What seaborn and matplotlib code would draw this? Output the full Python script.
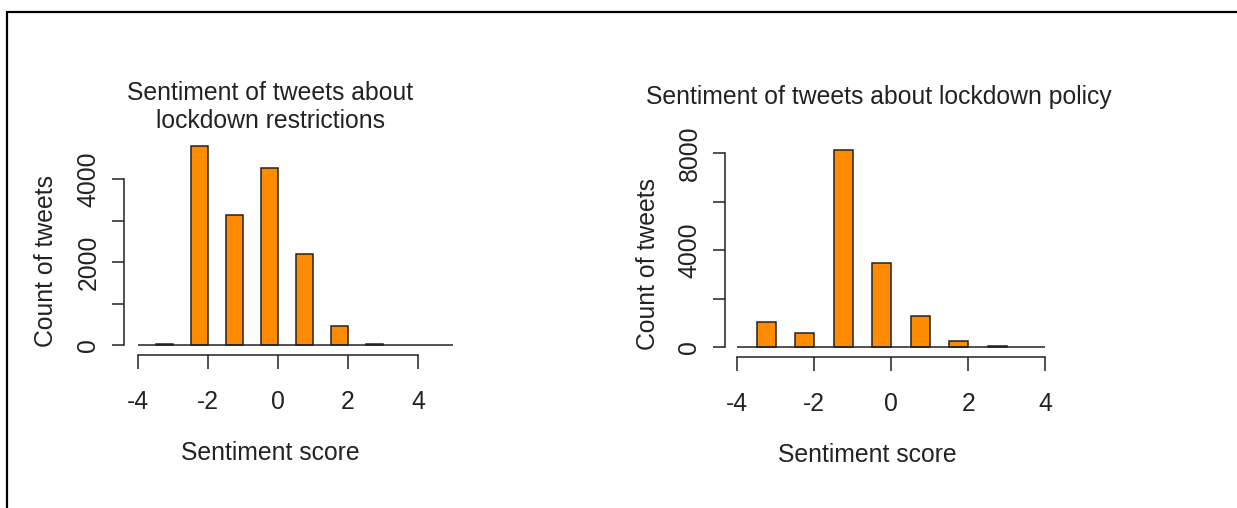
import matplotlib
matplotlib.use("Agg")
import matplotlib.pyplot as plt
from matplotlib.lines import Line2D
import seaborn as sns
import pandas as pd

# bins are [score - 0.5, score], one per integer score
scores = [-3, -2, -1, 0, 1, 2, 3]
restrictions_counts = [30, 4795, 3135, 4270, 2185, 450, 30]
policy_counts = [1030, 590, 8135, 3465, 1290, 260, 60]

restr_yticks = [0, 1000, 2000, 3000, 4000]
restr_ylabels = ["0", "", "2000", "", "4000"]
policy_yticks = [0, 2000, 4000, 6000, 8000]
policy_ylabels = ["0", "", "4000", "", "8000"]
xticks = [-4, -2, 0, 2, 4]

W, H = 1237, 508
FS = 17.8
INK = "#222222"

sns.set_style("ticks")
plt.rcParams["font.family"] = ["Liberation Sans", "DejaVu Sans"]
plt.rcParams.update({
    "axes.linewidth": 1.1,
    "xtick.major.width": 1.1,
    "ytick.major.width": 1.1,
    "xtick.color": INK,
    "ytick.color": INK,
    "axes.edgecolor": INK,
})

fig = plt.figure(figsize=(W / 100, H / 100), dpi=100)


def px_axes(x0, y0, x1, y1):
    return fig.add_axes([x0 / W, 1 - y1 / H, (x1 - x0) / W, (y1 - y0) / H])


def draw_panel(ax, counts, xlim, ylim, yticks, ylabels, base_end):
    df = pd.DataFrame({"mid": [s - 0.25 for s in scores], "count": counts})
    sns.barplot(data=df, x="mid", y="count", native_scale=True, width=0.5,
                color="#FF8C00", saturation=1, edgecolor=INK, linewidth=1.1,
                errorbar=None, ax=ax)
    ax.hlines(0, -4, base_end, color=INK, linewidth=1.1)
    ax.set_xlim(*xlim)
    ax.set_ylim(*ylim)
    ax.set_xticks(xticks)
    ax.set_xticklabels([str(t) for t in xticks])
    ax.set_yticks(yticks)
    ax.set_yticklabels(ylabels, rotation=90, va="center")
    ax.spines["top"].set_visible(False)
    ax.spines["right"].set_visible(False)
    ax.spines["left"].set_bounds(yticks[0], yticks[-1])
    ax.spines["bottom"].set_bounds(xticks[0], xticks[-1])
    ax.tick_params(axis="x", length=10, pad=15, labelsize=FS, labelcolor=INK)
    ax.tick_params(axis="y", length=9, pad=8, labelsize=FS, labelcolor=INK)
    ax.set_xlabel("")
    ax.set_ylabel("")
    ax.set_facecolor("none")


ax1 = px_axes(124, 136, 460, 355)
draw_panel(ax1, restrictions_counts, (-4.4, 5.2), (-240, 5040),
           restr_yticks, restr_ylabels, 5)

ax2 = px_axes(725, 140, 1058, 357)
draw_panel(ax2, policy_counts, (-4.32, 4.33), (-412, 8537),
           policy_yticks, policy_ylabels, 4)


def ftext(x, y, s, **kw):
    fig.text(x / W, 1 - y / H, s, fontsize=FS, color=INK,
             ha="center", va="center", **kw)


ftext(270, 107, "Sentiment of tweets about\nlockdown restrictions", linespacing=1.25)
ftext(879, 97, "Sentiment of tweets about lockdown policy")
ftext(270, 453, "Sentiment score")
ftext(867, 455, "Sentiment score")
ftext(46, 261, "Count of tweets", rotation=90)
ftext(648, 264, "Count of tweets", rotation=90)

# outer frame, cut off at right and bottom
fig.add_artist(Line2D([7 / W, 1], [1 - 12 / H, 1 - 12 / H], color="black", linewidth=1.6))
fig.add_artist(Line2D([7 / W, 7 / W], [0, 1 - 12 / H], color="black", linewidth=1.6))

fig.savefig("out.png", dpi=100)
